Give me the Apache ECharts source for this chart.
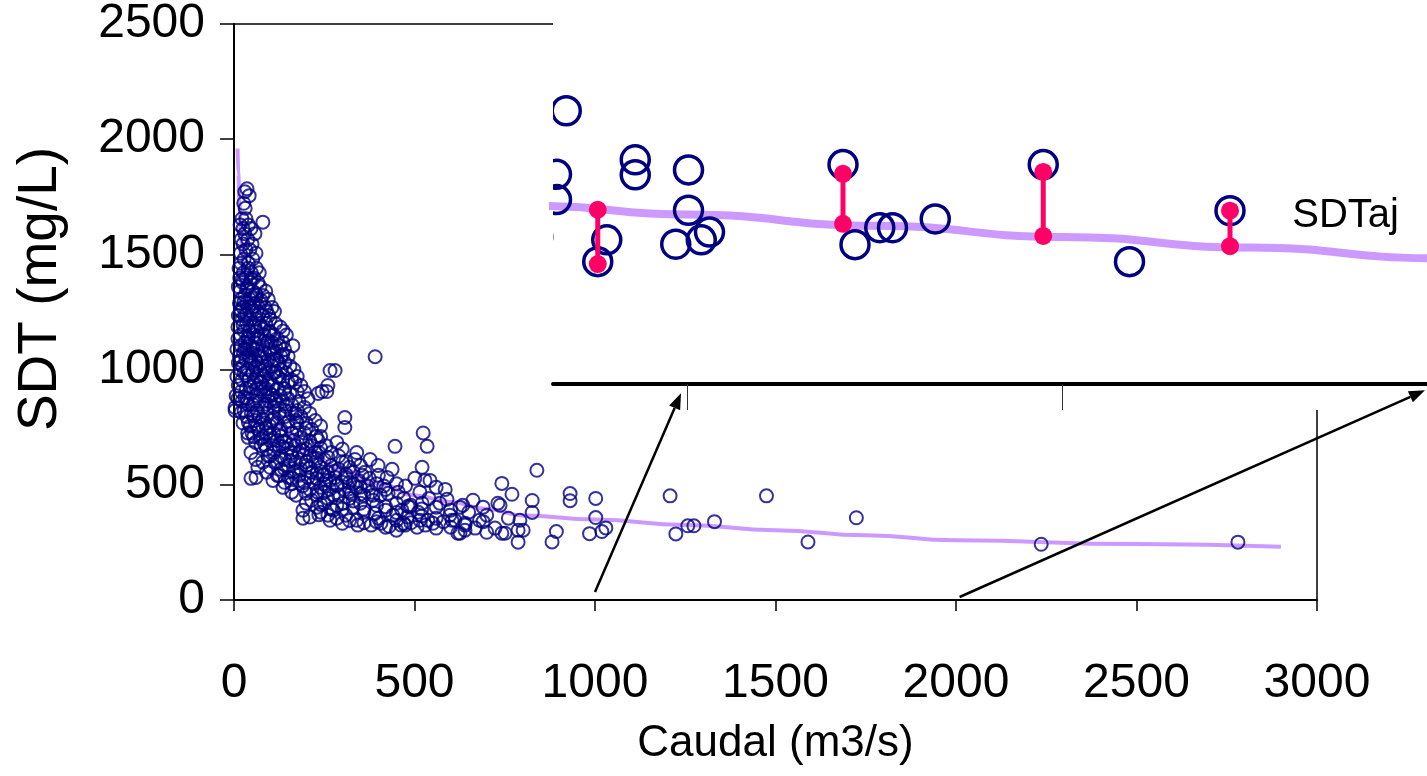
<!DOCTYPE html>
<html><head><meta charset="utf-8">
<script src="https://cdn.jsdelivr.net/npm/echarts@6/dist/echarts.min.js"></script>
<style>html,body{margin:0;padding:0;background:#fff}#c{width:1427px;height:776px}</style>
</head><body><div id="c"></div>
<script>
// Observed points: Caudal (m3/s) and SDT (mg/L)
const caudal = [
36, 30, 42, 27, 31,
33, 22, 80, 17, 40,
25, 47, 58, 30, 20, 38,
25, 50, 33, 44, 61, 18,
28, 52, 19, 40,
39, 62, 14, 26, 70, 48,
33, 55, 16, 66, 24, 45,
72, 38, 12, 17, 52, 88,
30, 62, 80, 44, 20, 95,
15, 58, 72, 35, 40, 86, 25, 105,
19, 64, 50, 112, 30, 78, 96, 12,
45, 60, 100, 22, 35, 70, 88, 115,
11, 52, 75, 128, 28, 98, 42, 62, 136,
18, 84, 55, 110, 145, 11, 38, 70, 120,
30, 92, 58, 104, 135, 163, 80, 45, 20, 125,
8, 62, 98, 140, 36, 50, 85, 112, 26,
15, 70, 130, 150, 42, 391, 33, 95, 60, 118,
141, 125, 78, 12, 48, 24, 88, 105, 66, 155,
38, 72, 130, 18, 166, 266, 280,
52, 110, 90, 28, 145, 8, 64, 120, 82, 175,
40, 98, 160, 22, 135, 169, 56, 76,
260, 12, 108, 185, 34, 88, 140, 62, 120,
244, 257, 20, 74, 175, 195, 233, 46, 100, 155,
6, 128, 60, 85, 11, 150, 36, 112, 205,
70, 98, 22, 180, 135, 52, 160, 120, 40,
3, 80, 195, 110, 3, 28, 142, 64, 175,
92, 48, 125, 210, 160, 35, 70, 140, 185, 307,
172, 58, 105, 225, 25, 120, 85, 200,
45, 150, 240, 100, 307, 68, 130, 175, 215,
38, 110, 90, 160, 195, 524, 55, 132, 240, 228, 39, 80,
233, 120, 165, 100, 285, 60, 190, 145,
75, 215, 170, 255, 125, 446, 535,
90, 150, 200, 300, 47, 110, 235, 180, 270, 340,
130, 160, 210, 290, 95, 335, 377, 250, 185, 140, 60,
115, 225, 300, 170, 80, 399, 270, 200, 150, 350,
66, 521, 100, 240, 320, 438, 130, 185, 290,
363, 215, 90, 260, 165, 330, 355, 245, 120, 400, 180,
61, 424, 280, 150, 205, 310, 47, 501, 230, 375,
543, 529, 108, 265, 345, 180, 742, 300, 220, 140,
395, 450, 250, 330, 160, 415, 190, 285, 370, 475,
136, 240, 340, 560, 210, 305, 420, 265, 585,
515, 380, 250, 160, 455, 770, 427, 325, 200,
172, 230, 290, 360, 405, 540, 260, 470, 320,
590, 662, 215, 385, 302, 521, 731, 250, 350, 450,
634, 737, 285, 395, 490, 482, 488, 626, 690, 230, 330, 560,
191, 465, 275, 420, 600, 240, 360, 510, 650,
260, 598, 310, 440, 700, 191, 285, 400, 560, 760,
266, 451, 515, 537, 604, 612, 792, 340, 680,
407, 551, 300, 470, 640, 343, 463, 474, 380, 530,
507, 420, 600, 668, 723, 560,
787, 801, 450, 640, 700, 626, 742, 751, 620, 787,
839, 826, 826, 881, 893, 931, 931, 985, 1002, 1002,
1019, 1030, 1208, 1224, 1257, 1274, 1331, 1475, 1590, 1724,
2236, 2781,
22, 48, 35, 60, 28, 50, 75, 18, 55, 90,
35, 70, 25, 58, 82, 100, 40, 65, 95, 115,
30, 52, 75, 100, 20, 45, 110, 135, 60, 85,
115, 35, 72, 95, 125, 150, 45, 80, 105, 140,
30, 60, 90, 115, 145, 20, 55, 80, 110, 150,
170, 40, 65, 90, 125, 175, 200, 50, 75, 100,
140, 185, 210, 85, 110, 135, 160, 190, 225, 240,
100, 120, 155, 200, 230, 260, 310, 140, 170, 210,
250, 280, 230, 310, 125, 160, 195, 255, 285, 320,
350, 230, 275, 320, 350, 385, 200, 240, 270, 300,
330, 360, 390, 420, 450, 480, 520, 570, 210, 235,
320, 360, 395, 430, 490, 520, 580, 640, 690
];
const sdt = [
1785, 1772, 1755, 1722, 1700,
1655, 1655, 1640, 1628, 1628,
1612, 1612, 1590, 1590, 1565, 1565,
1545, 1545, 1520, 1520, 1505, 1505,
1480, 1480, 1462, 1462,
1440, 1440, 1440, 1420, 1420, 1420,
1398, 1398, 1398, 1378, 1378, 1378,
1360, 1360, 1360, 1340, 1340, 1340,
1322, 1322, 1322, 1305, 1305, 1305,
1288, 1288, 1288, 1288, 1270, 1270, 1270, 1270,
1252, 1252, 1252, 1252, 1235, 1235, 1235, 1235,
1218, 1218, 1218, 1218, 1200, 1200, 1200, 1200,
1185, 1185, 1185, 1185, 1168, 1168, 1168, 1168, 1168,
1150, 1150, 1150, 1150, 1150, 1134, 1134, 1134, 1134,
1118, 1118, 1118, 1118, 1118, 1104, 1104, 1104, 1104, 1104,
1088, 1088, 1088, 1088, 1088, 1072, 1072, 1072, 1072,
1058, 1058, 1058, 1058, 1058, 1056, 1042, 1042, 1042, 1042,
1030, 1030, 1030, 1030, 1030, 1015, 1015, 1015, 1015, 1015,
1000, 1000, 1000, 1000, 1000, 996, 996,
985, 985, 985, 985, 985, 970, 970, 970, 970, 970,
955, 955, 955, 955, 955, 944, 944, 944,
931, 931, 931, 931, 918, 918, 918, 918, 918,
905, 905, 905, 905, 905, 905, 896, 896, 896, 896,
887, 887, 887, 887, 874, 874, 874, 874, 874,
862, 862, 862, 862, 862, 848, 848, 848, 848,
836, 836, 836, 836, 822, 822, 822, 822, 822,
810, 810, 810, 810, 810, 796, 796, 796, 796, 792,
779, 779, 779, 779, 768, 768, 768, 768,
755, 755, 755, 755, 749, 740, 740, 740, 740,
725, 725, 725, 725, 725, 725, 710, 710, 710, 710, 706, 706,
693, 693, 693, 693, 684, 684, 684, 684,
670, 670, 670, 670, 670, 667, 667,
655, 655, 655, 655, 640, 640, 640, 640, 640, 640,
625, 625, 625, 625, 625, 610, 610, 610, 610, 610, 610,
598, 598, 598, 598, 598, 584, 584, 584, 584, 584,
576, 576, 576, 576, 576, 567, 567, 567, 567,
555, 555, 555, 555, 555, 555, 541, 541, 541, 541, 541,
532, 532, 532, 532, 532, 532, 528, 528, 528, 528,
519, 519, 519, 519, 519, 519, 506, 511, 511, 511,
505, 505, 505, 505, 505, 495, 495, 495, 495, 495,
489, 489, 489, 489, 480, 480, 480, 480, 480,
468, 468, 468, 468, 468, 459, 463, 463, 463,
455, 455, 455, 455, 455, 441, 441, 441, 441,
437, 433, 433, 433, 420, 420, 420, 420, 420, 420,
411, 411, 411, 411, 411, 407, 403, 403, 403, 403, 403, 403,
390, 390, 390, 390, 390, 381, 381, 381, 381,
368, 368, 368, 368, 368, 355, 355, 355, 355, 355,
346, 346, 346, 346, 346, 346, 346, 346, 346,
333, 333, 333, 333, 333, 325, 325, 325, 325, 325,
316, 316, 316, 312, 312, 312,
303, 303, 303, 303, 294, 290, 290, 290, 290, 251,
563, 432, 380, 252, 297, 462, 431, 288, 441, 358,
297, 313, 452, 287, 322, 322, 340, 452, 252, 357,
242, 251,
1390, 1395, 1350, 1330, 1295, 1310, 1300, 1260, 1275, 1255,
1240, 1245, 1195, 1190, 1175, 1160, 1140, 1145, 1125, 1100,
1090, 1095, 1060, 1080, 1040, 1050, 1045, 1065, 1010, 1000,
990, 975, 945, 940, 965, 945, 925, 925, 890, 900,
880, 865, 850, 865, 840, 815, 800, 785, 790, 775,
810, 770, 755, 745, 735, 770, 745, 725, 700, 715,
690, 705, 690, 675, 655, 665, 640, 650, 640, 660,
625, 600, 605, 600, 615, 620, 600, 570, 560, 575,
545, 560, 550, 545, 540, 530, 510, 520, 500, 510,
490, 470, 455, 470, 460, 455, 420, 415, 395, 395,
430, 395, 375, 405, 380, 360, 395, 420, 360, 370,
345, 335, 340, 320, 335, 365, 340, 325, 340
];
// Fitted curve SDTaj
const curveQ   = [10, 12, 15, 20, 30, 40, 50, 70, 100, 140, 200, 300, 400, 500, 600, 700, 800, 1000, 1250, 1500, 1750, 2000, 2500, 2900];
const curveSDT = [1960, 1850, 1720, 1555, 1330, 1160, 1065, 950, 835, 740, 650, 565, 505, 455, 425, 395, 367, 349, 326, 303, 281, 259, 243, 231];
// Residual markers shown in the magnified inset
const resQ   = [881, 1208, 1475, 1724];
const resObs = [247, 433, 437, 357];
const resFit = [359, 330, 305, 284];
const curveName = 'SDTaj';

if (caudal.length !== sdt.length) console.error('length mismatch', caudal.length, sdt.length);

const FONT = 'Liberation Sans, Arial, sans-serif';
const NAVY = '#000080', LAV = '#CC99FF', RED = '#FF0066';
const pts = caudal.map((q, i) => [q, sdt[i]]);
const curve = curveQ.map((q, i) => [q, curveSDT[i]]);
const resid = resQ.map((q, i) => [q, resObs[i], resFit[i]]);
const plain = v => String(v);

const chart = echarts.init(document.getElementById('c'), null, {renderer: 'canvas'});
chart.setOption({
  animation: false,
  backgroundColor: '#fff',
  grid: [
    {left: 234, top: 24, width: 1083, height: 576, show: true, borderColor: '#000', borderWidth: 1.5, backgroundColor: 'transparent', z: 0},
    {left: 553, top: 20, right: 0, height: 390, show: true, borderWidth: 0, backgroundColor: '#fff', z: 10}
  ],
  xAxis: [
    {gridIndex: 0, type: 'value', min: 0, max: 3000, interval: 500, z: 0,
     name: 'Caudal (m3/s)', nameLocation: 'middle', nameGap: 122,
     nameTextStyle: {fontFamily: FONT, fontSize: 44, color: '#000'},
     axisLine: {show: true, onZero: false, lineStyle: {color: '#000', width: 2}},
     axisTick: {show: true, length: 11, lineStyle: {color: '#000', width: 1.5}},
     axisLabel: {fontFamily: FONT, fontSize: 48, color: '#000', margin: 60, formatter: plain},
     splitLine: {show: false}},
    {gridIndex: 1, type: 'value', min: 821.33, max: 1986.67, z: 11,
     axisLine: {show: true, onZero: true, lineStyle: {color: '#000', width: 4}},
     axisTick: {show: true, length: 26, customValues: [1000, 1500], lineStyle: {color: '#333', width: 1}},
     axisLabel: {show: false}, splitLine: {show: false}}
  ],
  yAxis: [
    {gridIndex: 0, type: 'value', min: 0, max: 2500, interval: 500, z: 0,
     name: 'SDT (mg/L)', nameLocation: 'middle', nameGap: 166,
     nameTextStyle: {fontFamily: FONT, fontSize: 55, color: '#000', padding: [0, 0, 0, 46]},
     axisLine: {show: true, onZero: false, lineStyle: {color: '#000', width: 2}},
     axisTick: {show: true, length: 14, lineStyle: {color: '#000', width: 1.5}},
     axisLabel: {fontFamily: FONT, fontSize: 48, color: '#000', margin: 29, padding: [5, 0, 0, 0], formatter: plain},
     splitLine: {show: false}},
    {gridIndex: 1, type: 'value', min: -53.6, max: 750, show: false, z: 11}
  ],
  series: [
    {name: curveName, type: 'line', xAxisIndex: 0, yAxisIndex: 0, data: curve, smooth: true, smoothMonotone: 'x',
     showSymbol: false, lineStyle: {color: LAV, width: 4}, z: 1, silent: true},
    {type: 'scatter', xAxisIndex: 0, yAxisIndex: 0, data: pts, symbol: 'circle', symbolSize: 13,
     itemStyle: {color: 'rgba(0,0,0,0)', borderColor: NAVY, borderWidth: 2}, z: 2, silent: true},
    {name: curveName, type: 'line', xAxisIndex: 1, yAxisIndex: 1, data: curve, smooth: true, smoothMonotone: 'x',
     showSymbol: false, clip: true, lineStyle: {color: LAV, width: 8}, z: 12, silent: true},
    {type: 'custom', xAxisIndex: 1, yAxisIndex: 1, data: pts, z: 13, clip: true, silent: true,
     encode: {x: 0, y: 1},
     renderItem: function (params, api) {
       const c = api.coord([api.value(0), api.value(1)]);
       return {type: 'circle', shape: {cx: c[0], cy: c[1], r: 14}, style: {fill: 'none', stroke: NAVY, lineWidth: 3.5}};
     }},
    {type: 'custom', xAxisIndex: 1, yAxisIndex: 1, data: resid, z: 14, silent: true,
     encode: {x: 0, y: [1, 2]},
     renderItem: function (params, api) {
       const a = api.coord([api.value(0), api.value(1)]);
       const b = api.coord([api.value(0), api.value(2)]);
       return {type: 'group', children: [
         {type: 'line', shape: {x1: a[0], y1: a[1], x2: b[0], y2: b[1]}, style: {stroke: RED, lineWidth: 5}},
         {type: 'circle', shape: {cx: a[0], cy: a[1], r: 9}, style: {fill: RED}},
         {type: 'circle', shape: {cx: b[0], cy: b[1], r: 9}, style: {fill: RED}}
       ]};
     }}
  ]
});

function px(gi, v) { return chart.convertToPixel({gridIndex: gi}, v); }
function arrow(a, b) {
  const dx = b[0] - a[0], dy = b[1] - a[1], L = Math.hypot(dx, dy), ux = dx / L, uy = dy / L;
  const hl = 16, hw = 6;
  const bx = b[0] - ux * hl, by = b[1] - uy * hl;
  return [
    {type: 'line', z: 30, shape: {x1: a[0], y1: a[1], x2: bx, y2: by}, style: {stroke: '#000', lineWidth: 2.5}},
    {type: 'polygon', z: 30, shape: {points: [[b[0], b[1]], [bx - uy * hw, by + ux * hw], [bx + uy * hw, by - ux * hw]]}, style: {fill: '#000'}}
  ];
}
const lbl = px(1, [1807, 346]);
chart.setOption({graphic: [
  ...arrow(px(0, [1000, 35]), px(1, [992, -19])),
  ...arrow(px(0, [2010, 13]), px(1, [1984, -13])),
  {type: 'text', z: 30, x: lbl[0], y: lbl[1],
   style: {text: curveName, font: '40px ' + FONT, fill: '#000', textAlign: 'left', textVerticalAlign: 'middle'}}
]});
</script></body></html>
